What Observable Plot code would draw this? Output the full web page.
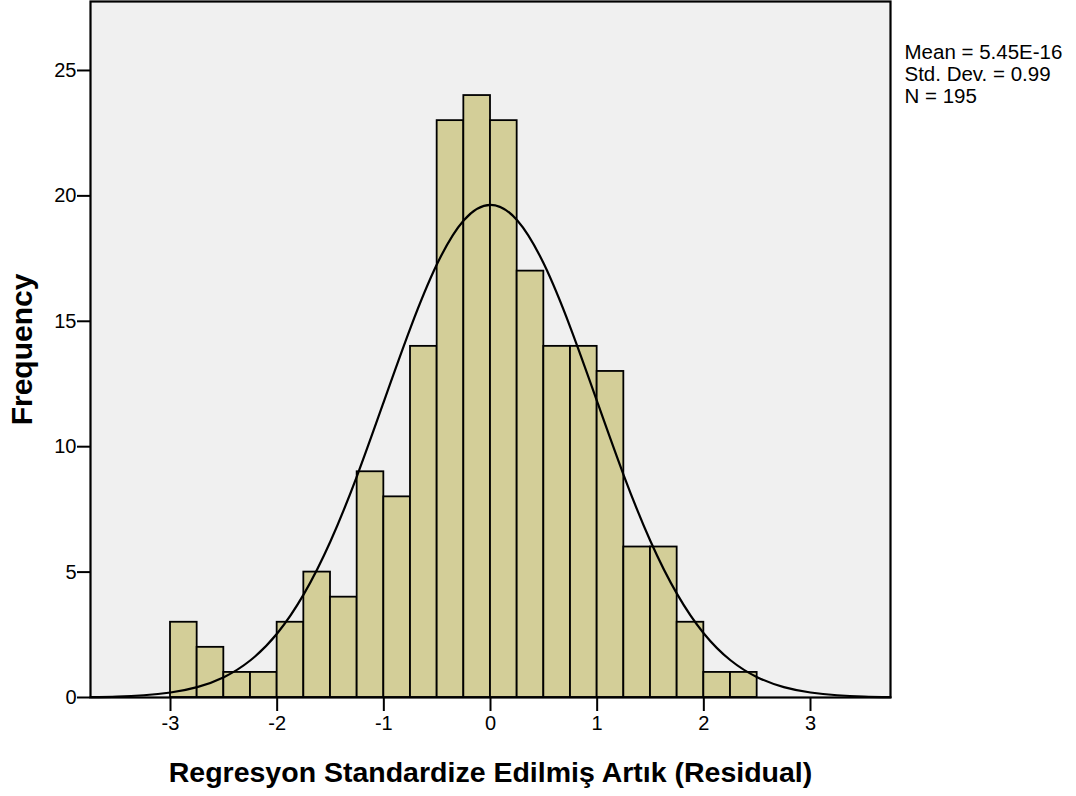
<!DOCTYPE html>
<html>
<head>
<meta charset="utf-8">
<script src="https://cdn.jsdelivr.net/npm/d3@7"></script>
<script src="https://cdn.jsdelivr.net/npm/@observablehq/plot@0.6"></script>
<style>
  html, body { margin: 0; padding: 0; background: #fff; }
  #chart svg { display: block; }
</style>
</head>
<body>
<div id="chart"></div>
<script>
// Histogram bins (lower/upper edge) and frequencies
const binLower = [-3.0, -2.75, -2.5, -2.25, -2.0, -1.75, -1.5, -1.25, -1.0, -0.75, -0.5, -0.25,
                  0.0, 0.25, 0.5, 0.75, 1.0, 1.25, 1.5, 1.75, 2.0, 2.25];
const binUpper = [-2.75, -2.5, -2.25, -2.0, -1.75, -1.5, -1.25, -1.0, -0.75, -0.5, -0.25, 0.0,
                  0.25, 0.5, 0.75, 1.0, 1.25, 1.5, 1.75, 2.0, 2.25, 2.5];
const counts = [3, 2, 1, 1, 3, 5, 4, 9, 8, 14, 23, 24, 23, 17, 14, 14, 13, 6, 6, 3, 1, 1];

// Normal curve (Mean 0, SD 0.99, N 195, bin width 0.25) sampled points
const curveX = [-3.75, -3.5, -3.25, -3.0, -2.75, -2.5, -2.25, -2.0, -1.75, -1.5, -1.25, -1.0, -0.75, -0.5, -0.25, 0,
                0.25, 0.5, 0.75, 1.0, 1.25, 1.5, 1.75, 2.0, 2.25, 2.5, 2.75, 3.0, 3.25, 3.5, 3.75];
const curveY = [0.015, 0.038, 0.090, 0.199, 0.415, 0.810, 1.485, 2.553, 4.12, 6.23, 8.85, 11.80, 14.74, 17.29, 19.03, 19.645,
                19.03, 17.29, 14.74, 11.80, 8.85, 6.23, 4.12, 2.553, 1.485, 0.810, 0.415, 0.199, 0.090, 0.038, 0.015];

const xTicks = [-3, -2, -1, 0, 1, 2, 3];
const yTicks = [0, 5, 10, 15, 20, 25];
const statsLines = ["Mean = 5.45E-16", "Std. Dev. = 0.99", "N = 195"];
const xTitle = "Regresyon Standardize Edilmiş Artık (Residual)";
const yTitle = "Frequency";

const bins = binLower.map((lo, i) => ({lo, hi: binUpper[i], count: counts[i]}));
const curve = curveX.map((x, i) => ({x, y: curveY[i]}));

const chart = Plot.plot({
  width: 1076,
  height: 796,
  marginLeft: 90,
  marginRight: 186,
  marginTop: 1,
  marginBottom: 99,
  style: {fontFamily: "'Liberation Sans', Arial, sans-serif", color: "#000", background: "#fff"},
  x: {domain: [-3.75, 3.75]},
  y: {domain: [0, 27.75]},
  marks: [
    Plot.frame({fill: "#f0f0f0", stroke: null}),
    Plot.rectY(bins, {x1: "lo", x2: "hi", y: "count", fill: "#d3ce98", stroke: "#000", strokeWidth: 1.8}),
    Plot.line(curve, {x: "x", y: "y", curve: "natural", stroke: "#000", strokeWidth: 2.2}),
    Plot.frame({stroke: "#000", strokeWidth: 2.2}),
    Plot.axisY({ticks: yTicks, tickSize: 13, tickPadding: 1, fontSize: 20, label: null, strokeWidth: 2,
      tickFormat: d => String(d)}),
    Plot.axisX({ticks: xTicks, tickSize: 14, tickPadding: 4, fontSize: 20, label: null, strokeWidth: 2,
      tickFormat: d => String(d)}),
    Plot.text([xTitle], {frameAnchor: "bottom", dy: 75, lineAnchor: "middle", textAnchor: "middle",
      fontSize: 28.5, fontWeight: "bold"}),
    Plot.text([yTitle], {frameAnchor: "left", dx: -68, rotate: -90, lineAnchor: "middle", textAnchor: "middle",
      fontSize: 30, fontWeight: "bold"}),
    Plot.text([statsLines.join("\n")], {frameAnchor: "top-right", dx: 14, dy: 42, textAnchor: "start",
      lineAnchor: "top", lineHeight: 1.08, fontSize: 20.5})
  ]
});
document.getElementById("chart").appendChild(chart);
</script>
</body>
</html>
